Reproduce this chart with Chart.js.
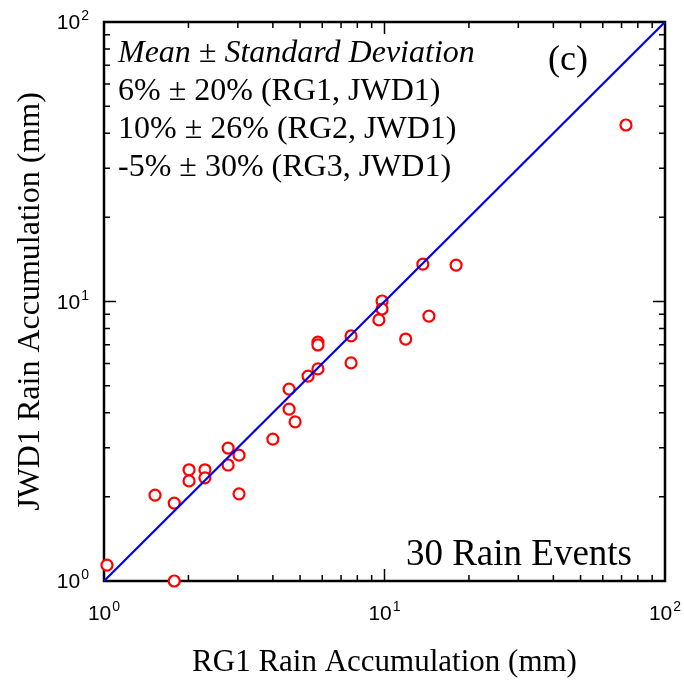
<!DOCTYPE html>
<html>
<head>
<meta charset="utf-8">
<script src="https://cdn.jsdelivr.net/npm/chart.js@4.4.1/dist/chart.umd.min.js"></script>
<style>
  html, body { margin: 0; padding: 0; background: #fff; }
  #wrap { width: 684px; height: 681px; }
</style>
</head>
<body>
<div id="wrap"><canvas id="grafico"></canvas></div>
<script>
// RG1 vs JWD1 rain accumulation (mm), one point per rain event
const rg1 = [1.025, 1.78, 1.52, 1.78, 2.01, 2.01, 2.29, 2.29, 2.77, 2.77,
             3.03, 3.03, 4.00, 4.57, 4.57, 4.80, 5.34, 5.79, 5.79, 5.79,
             7.60, 7.60, 9.55, 9.80, 9.80, 11.9, 14.4, 13.7, 18.0, 72.6];
const jwd1 = [1.14, 1.00, 2.03, 1.90, 2.50, 2.28, 2.50, 2.34, 2.99, 2.60,
              2.82, 2.05, 3.22, 4.86, 4.12, 3.71, 5.41, 5.74, 7.16, 6.99,
              7.53, 6.03, 8.59, 10.04, 9.40, 7.34, 8.87, 13.6, 13.5, 42.8];
const oneToOne = [1, 100];
const majorTicks = [1, 10, 100];
const tickExponents = ['0', '1', '2'];
const minorTicks = [2, 3, 4, 5, 6, 7, 8, 9, 20, 30, 40, 50, 60, 70, 80, 90];
const statsTitle = 'Mean \u00b1 Standard Deviation';
const statsLines = ['6% \u00b1 20% (RG1, JWD1)', '10% \u00b1 26% (RG2, JWD1)', '-5% \u00b1 30% (RG3, JWD1)'];

const serif = "'Liberation Serif', 'Times New Roman', serif";
const sans = "'Liberation Sans', Arial, sans-serif";

// desenha "10" com o expoente sobrescrito
function potencia(ctx, exp, x, y, align) {
  ctx.font = '21px ' + sans;
  const wBase = ctx.measureText('10').width;
  ctx.font = '14px ' + sans;
  const wExp = ctx.measureText(exp).width + 1;
  let x0 = x;
  if (align === 'center') x0 = x - (wBase + wExp) / 2;
  if (align === 'right') x0 = x - (wBase + wExp);
  ctx.textAlign = 'left';
  ctx.textBaseline = 'alphabetic';
  ctx.font = '21px ' + sans;
  ctx.fillText('10', x0, y);
  ctx.font = '14px ' + sans;
  ctx.fillText(exp, x0 + wBase + 1, y - 9);
}

// moldura + marcas para dentro nos quatro lados
const moldura = {
  id: 'moldura',
  beforeDatasetsDraw(chart) {
    const { ctx, chartArea: a, scales: { x, y } } = chart;
    ctx.save();
    ctx.strokeStyle = '#000';
    ctx.lineWidth = 1.5;
    const tick = (vals, len) => {
      vals.forEach(v => {
        const px = x.getPixelForValue(v);
        const py = y.getPixelForValue(v);
        ctx.beginPath();
        ctx.moveTo(px, a.bottom); ctx.lineTo(px, a.bottom - len);
        ctx.moveTo(px, a.top); ctx.lineTo(px, a.top + len);
        ctx.moveTo(a.left, py); ctx.lineTo(a.left + len, py);
        ctx.moveTo(a.right, py); ctx.lineTo(a.right - len, py);
        ctx.stroke();
      });
    };
    tick(minorTicks, 6);
    tick(majorTicks, 12);
    ctx.lineWidth = 2.5;
    ctx.strokeRect(a.left, a.top, a.right - a.left, a.bottom - a.top);
    ctx.restore();
  },
  afterDraw(chart) {
    const { ctx, chartArea: a, scales: { x, y } } = chart;
    ctx.save();
    ctx.fillStyle = '#000';
    majorTicks.forEach((v, i) => {
      potencia(ctx, tickExponents[i], x.getPixelForValue(v), a.bottom + 39, 'center');
      potencia(ctx, tickExponents[i], a.left - 15, y.getPixelForValue(v) + 7, 'right');
    });
    ctx.textBaseline = 'alphabetic';
    ctx.textAlign = 'left';
    ctx.font = 'italic 32px ' + serif;
    ctx.fillText(statsTitle, a.left + 14, a.top + 40);
    ctx.font = '32px ' + serif;
    statsLines.forEach((t, i) => ctx.fillText(t, a.left + 14, a.top + 78 + i * 38));
    ctx.font = '36px ' + serif;
    ctx.fillText('(c)', a.left + 444, a.top + 48);
    ctx.font = '37px ' + serif;
    ctx.textAlign = 'right';
    ctx.fillText('30 Rain Events', a.right - 33, a.bottom - 16);
    ctx.restore();
  }
};

function eixo(titulo, vertical) {
  return {
    type: 'logarithmic',
    min: 1,
    max: 100,
    afterBuildTicks: s => { s.ticks = majorTicks.map(v => ({ value: v })); },
    afterFit: s => {
      if (vertical) { s.width = 104; s.paddingTop = 0; s.paddingBottom = 0; }
      else { s.height = 100; s.paddingLeft = 0; s.paddingRight = 0; }
    },
    grid: { display: false, drawTicks: false },
    border: { display: false },
    ticks: { display: false },
    title: {
      display: true,
      text: titulo,
      color: '#000',
      font: { family: serif, size: vertical ? 32 : 31 },
      padding: vertical ? { top: 11, bottom: 0 } : { top: 0, bottom: 0 }
    }
  };
}

const ctx = document.getElementById('grafico').getContext('2d');
new Chart(ctx, {
  type: 'scatter',
  data: {
    datasets: [
      {
        label: '1:1',
        type: 'line',
        data: oneToOne.map(v => ({ x: v, y: v })),
        borderColor: '#0000f0',
        borderWidth: 2.2,
        pointRadius: 0,
        fill: false,
        order: 0
      },
      {
        label: 'Eventos',
        data: rg1.map((v, i) => ({ x: v, y: jwd1[i] })),
        pointStyle: 'circle',
        pointRadius: 5.5,
        pointBorderWidth: 2.2,
        borderColor: '#ff0000',
        backgroundColor: '#ffffff',
        clip: false,
        order: 1
      }
    ]
  },
  options: {
    responsive: true,
    maintainAspectRatio: false,
    animation: false,
    layout: { padding: { left: 0, right: 19, top: 22, bottom: 0 } },
    plugins: { legend: { display: false }, tooltip: { enabled: false } },
    scales: {
      x: eixo('RG1 Rain Accumulation (mm)', false),
      y: eixo('JWD1 Rain Accumulation (mm)', true)
    }
  },
  plugins: [moldura]
});
</script>
</body>
</html>
